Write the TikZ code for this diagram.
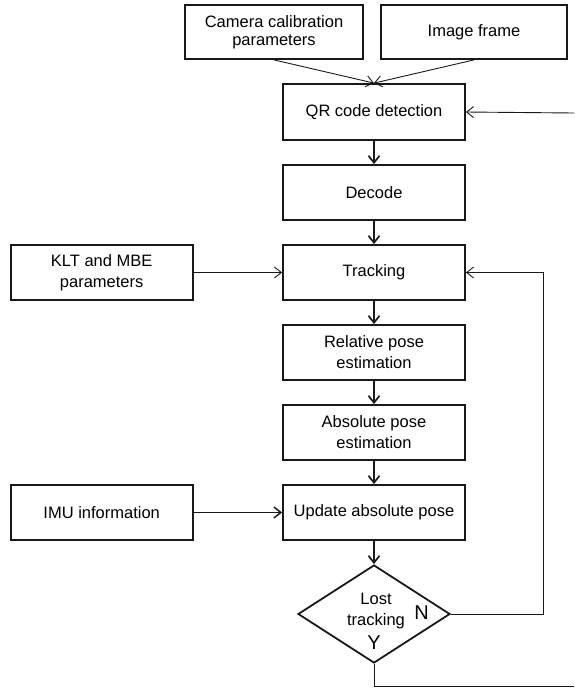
\documentclass[tikz,border=0pt]{standalone}
\usepackage{fontspec}
\setmainfont{Liberation Sans}
\usetikzlibrary{shapes.geometric,arrows.meta}
\begin{document}
\begin{tikzpicture}[x=1pt,y=-1pt,
  font=\fontsize{16.5}{21}\selectfont,
  >={Straight Barb[length=7pt,width=11pt]},
  box/.style={draw=black!90,line width=1.8pt,rectangle,inner sep=0pt,align=center,
    minimum width=182pt,minimum height=55pt},
  decision/.style={draw=black!90,line width=1.8pt,diamond,inner sep=0pt,align=center,
    aspect=1.55,minimum width=152pt,minimum height=98pt},
  thin/.style={->,line width=0.9pt,draw=black!90},
  thick/.style={->,line width=1.7pt,draw=black!90},
  yn/.style={font=\fontsize{20}{24}\selectfont,inner sep=0pt}]
\useasboundingbox (0,0) rectangle (574,689);
\node[box,minimum width=178pt,minimum height=54pt,font=\fontsize{16.5}{18}\selectfont] (cam) at (274,32) {Camera calibration\\parameters};
\node[box,minimum width=186pt,minimum height=54pt] (img) at (474,32) {Image frame};
\node[box,minimum height=56pt] (qr) at (374,112) {QR code detection};
\node[box] (dec) at (374,192.5) {Decode};
\node[box] (trk) at (374,272.5) {Tracking};
\node[box] (rel) at (374,352.5) {Relative pose\\estimation};
\node[box] (abs) at (374,432.5) {Absolute pose\\estimation};
\node[box] (upd) at (374,512.5) {Update absolute pose};
\node[box] (klt) at (101.7,272.5) {KLT and MBE\\parameters};
\node[box] (imu) at (101.7,512.5) {IMU information};
\node[decision] (dia) at (374,614) {};
\node[align=center,inner sep=0pt] (lost) at (376,611) {Lost\\tracking};
\node[yn] (nlab) at (421.5,613) {N};
\node[yn] (ylab) at (374,643) {Y};
\coordinate (qrin) at (574,113);
\coordinate (fb) at (543,614);
\coordinate (bot) at (574,686);
\draw[thin] (cam.south) -- (qr.north);
\draw[thin] (img.south) -- (qr.north);
\draw[thin] (qrin) -- (qr.east);
\draw[thick] (qr) -- (dec);
\draw[thick] (dec) -- (trk);
\draw[thick] (trk) -- (rel);
\draw[thick] (rel) -- (abs);
\draw[thick] (abs) -- (upd);
\draw[thick] (upd) -- (dia);
\draw[thin] (klt) -- (trk);
\draw[thick,line width=1.5pt] (imu) -- (upd);
\draw[thin] (dia.east) -- (fb) |- (trk.east);
\draw[line width=0.9pt,draw=black!90] (dia.south) |- (bot);
\end{tikzpicture}
\end{document}
